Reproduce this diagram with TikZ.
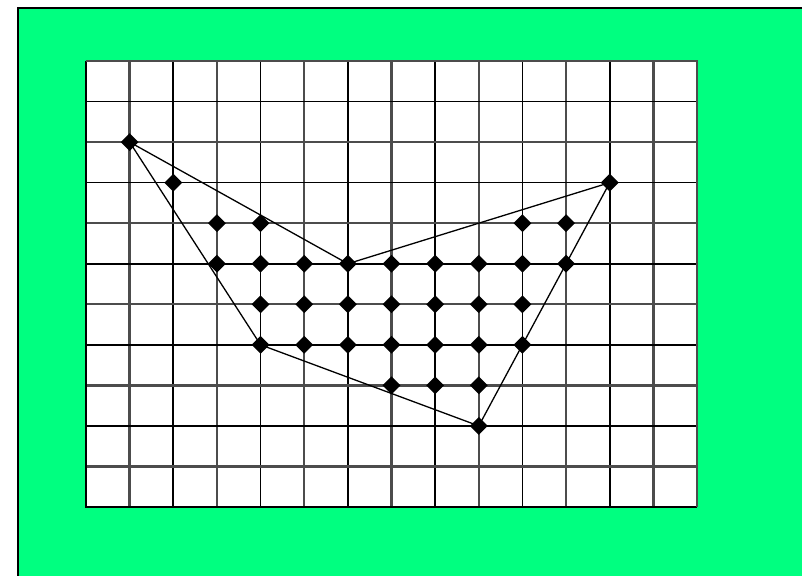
\documentclass[tikz,border=0pt]{standalone}
\usetikzlibrary{shapes.geometric}
\definecolor{bggreen}{RGB}{0,255,128}
\tikzset{
  gridline/.style={black, line width=1.6pt},
  softline/.style={black!70, line width=2.4pt},
  hull/.style={black, line width=1.3pt, line join=round},
  dot/.style={diamond, fill=black, inner sep=0pt, minimum width=18pt, minimum height=18pt},
}
\begin{document}
\begin{tikzpicture}[x=1pt,y=-1pt]
\useasboundingbox (0,0) rectangle (802,575);
\begin{scope}
\clip (0,0) rectangle (802,575);
\draw[fill=bggreen, line width=1.8pt] (18,8) rectangle (806,577);
\end{scope}
\fill[white] (86,61) rectangle (697,507);
% grid
\foreach \i in {0,...,14} {
  \pgfmathsetmacro{\xx}{86+\i*611/14}
  \ifodd\i
    \draw[softline] (\xx,61) -- (\xx,507);
  \else
    \draw[gridline] (\xx,61) -- (\xx,507);
  \fi
}
\foreach \j in {0,...,11} {
  \pgfmathsetmacro{\yy}{61+\j*446/11}
  \ifodd\j
    \draw[gridline] (86,\yy) -- (697,\yy);
  \else
    \draw[softline] (86,\yy) -- (697,\yy);
  \fi
}
\draw[gridline] (86,61) -- (86,507) -- (697,507);
\draw[softline] (86,61) -- (697,61) -- (697,507);
% points
\foreach \i/\j in {1/2, 2/3, 3/4, 4/4, 10/4, 11/4, 12/3,
  3/5,4/5,5/5,6/5,7/5,8/5,9/5,10/5,11/5,
  4/6,5/6,6/6,7/6,8/6,9/6,10/6,
  4/7,5/7,6/7,7/7,8/7,9/7,10/7,
  7/8,8/8,9/8, 9/9} {
  \node[dot] (p\i-\j) at ({86+\i*611/14},{61+\j*446/11}) {};
}
\draw[hull] (p1-2.center) -- (p6-5.center) -- (p12-3.center) -- (p9-9.center) -- (p4-7.center) -- cycle;
\end{tikzpicture}
\end{document}
